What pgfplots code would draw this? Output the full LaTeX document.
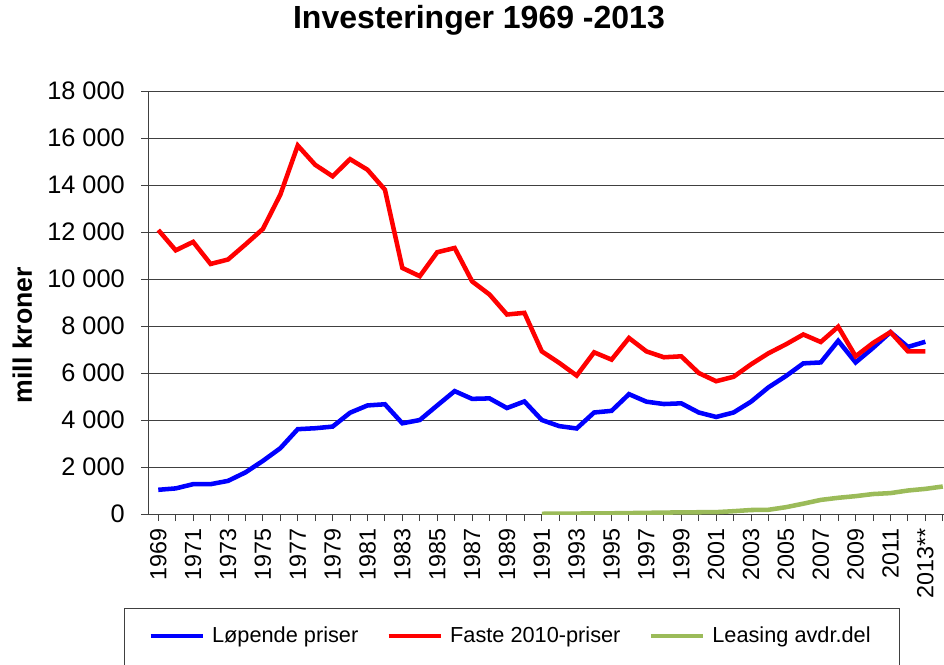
\documentclass[border=0pt]{standalone}
\usepackage{fontspec}
\setmainfont{Liberation Sans}
\usepackage{pgfplots}
\pgfplotsset{compat=1.18}
\usepackage{xcolor}
\definecolor{lpblue}{HTML}{0000FF}
\definecolor{fpred}{HTML}{FF0000}
\definecolor{lsgreen}{HTML}{9BBB59}
\definecolor{gridc}{HTML}{404040}

\pgfplotstableread{
year val
1969 1030
1970 1090
1971 1270
1972 1270
1973 1410
1974 1770
1975 2260
1976 2800
1977 3610
1978 3650
1979 3720
1980 4310
1981 4620
1982 4670
1983 3860
1984 4000
1985 4620
1986 5230
1987 4900
1988 4920
1989 4510
1990 4790
1991 4000
1992 3740
1993 3640
1994 4320
1995 4390
1996 5100
1997 4780
1998 4680
1999 4710
2000 4320
2001 4130
2002 4320
2003 4780
2004 5390
2005 5870
2006 6410
2007 6450
2008 7370
2009 6450
2010 7070
2011 7740
2012 7110
2013 7330
}\lopende

\pgfplotstableread{
year val
1969 12085
1970 11220
1971 11580
1972 10640
1973 10830
1974 11470
1975 12130
1976 13590
1977 15680
1978 14860
1979 14370
1980 15100
1981 14650
1982 13800
1983 10470
1984 10120
1985 11140
1986 11320
1987 9900
1988 9340
1989 8490
1990 8560
1991 6920
1992 6430
1993 5890
1994 6880
1995 6570
1996 7490
1997 6920
1998 6670
1999 6710
2000 6000
2001 5650
2002 5840
2003 6370
2004 6840
2005 7220
2006 7640
2007 7320
2008 7970
2009 6710
2010 7280
2011 7740
2012 6920
2013 6920
}\faste

\pgfplotstableread{
year val
1991 10
1992 15
1993 20
1994 25
1995 30
1996 40
1997 50
1998 60
1999 70
2000 75
2001 80
2002 120
2003 170
2004 180
2005 290
2006 440
2007 600
2008 690
2009 760
2010 850
2011 890
2012 1000
2013 1070
2014 1170
}\leasing

\begin{document}
\begin{tikzpicture}
\useasboundingbox (0,0) rectangle (708pt,-498pt);
\begin{axis}[
  at={(111pt,-385.5pt)}, anchor=south west,
  scale only axis, width=597pt, height=317.25pt,
  xmin=1968.41, xmax=2014.07, ymin=0, ymax=18000,
  axis lines*=left,
  axis line style={gridc, line width=0.75pt},
  tick style={gridc, line width=0.75pt},
  tick align=outside, major tick length=5.25pt, minor tick length=5.25pt,
  ytick={0,2000,...,18000},
  scaled y ticks=false,
  ymajorgrids, grid style={gridc, line width=0.75pt},
  xtick={1969,1971,...,2013},
  minor xtick={1970,1972,...,2014},
  xticklabels={1969,1971,1973,1975,1977,1979,1981,1983,1985,1987,1989,1991,1993,1995,1997,1999,2001,2003,2005,2007,2009,2011,2013**},
  /pgf/number format/fixed,
  /pgf/number format/precision=0,
  /pgf/number format/1000 sep={\ },
  /pgf/number format/assume math mode=true,
  yticklabel style={font=\fontsize{19}{22}\selectfont, inner sep=0pt, xshift=-12pt},
  xticklabel style={font=\fontsize{17.5}{20}\selectfont, yshift=-5.25pt, rotate=90, anchor=east, inner sep=0pt},
  title={Investeringer 1969 -2013},
  title style={at={(axis description cs:0.4158,1.149)}, anchor=center, font=\bfseries\fontsize{24}{28}\selectfont},
  ylabel={mill kroner},
  ylabel style={at={(axis description cs:-0.158,0.423)}, anchor=center, font=\bfseries\fontsize{20}{24}\selectfont},
  legend columns=3,
  legend style={draw=none, fill=none, at={(axis description cs:0,-0.2884)}, anchor=west,
    inner sep=0pt, font=\fontsize{16.3}{20}\selectfont, nodes={inner sep=0pt},
    /tikz/every odd column/.append style={column sep=5.5pt},
    /tikz/every even column/.append style={column sep=21pt}},
  legend image code/.code={\draw[#1] (0pt,0pt) -- (39pt,0pt);},
]
\addplot[lpblue, line width=3.4pt] table[x=year, y=val] {\lopende};
\addlegendentry{Løpende priser}
\addplot[fpred, line width=3.4pt] table[x=year, y=val] {\faste};
\addlegendentry{Faste 2010-priser}
\addplot[lsgreen, line width=3.4pt] table[x=year, y=val] {\leasing};
\addlegendentry{Leasing avdr.del}
\end{axis}
\draw[gridc, line width=0.75pt] (93pt,-456pt) rectangle (674.25pt,-520pt);
\end{tikzpicture}
\end{document}
